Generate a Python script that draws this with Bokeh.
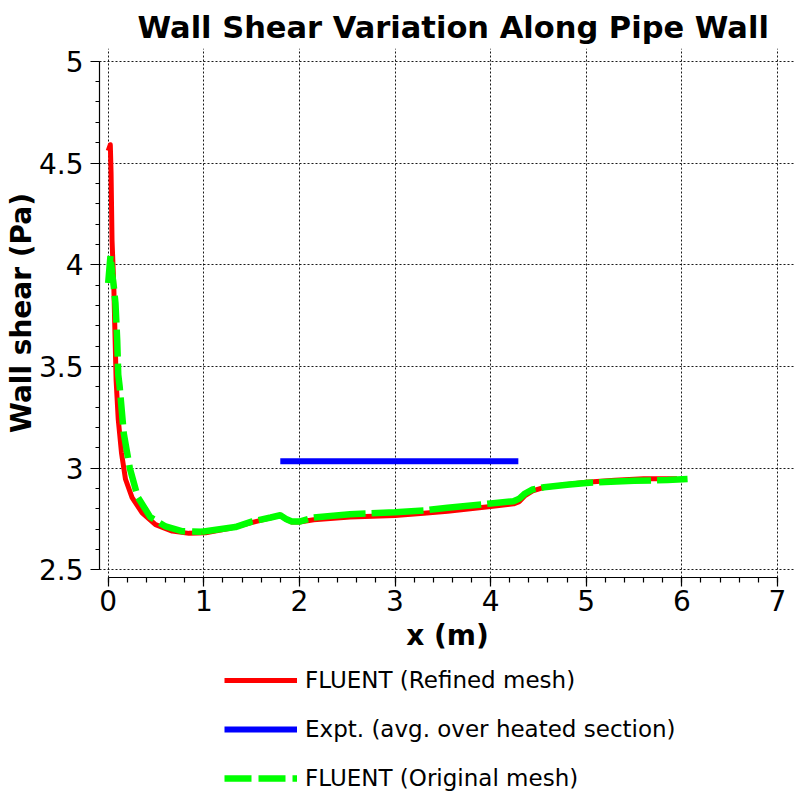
from bokeh.plotting import figure
from bokeh.models import Range1d, SingleIntervalTicker, Legend, LegendItem
from bokeh.layouts import column
from bokeh.embed import file_html
from bokeh.resources import INLINE

# ---- data ----
refined_x = [0.00, 0.022, 0.03, 0.04, 0.058, 0.083, 0.105, 0.139, 0.181, 0.25,
             0.355, 0.495, 0.67, 0.845, 1.02, 1.26, 1.51, 1.70, 1.80, 1.86,
             1.92, 2.00, 2.15, 2.53, 3.00, 3.30, 3.55, 4.00, 4.24, 4.30,
             4.36, 4.44, 4.56, 4.80, 5.00, 5.30, 5.60, 5.95]
refined_y = [4.56, 4.59, 4.45, 4.12, 3.905, 3.43, 3.24, 3.075, 2.945, 2.855,
             2.78, 2.722, 2.69, 2.679, 2.682, 2.703, 2.733, 2.755, 2.769, 2.748,
             2.735, 2.735, 2.746, 2.759, 2.767, 2.778, 2.788, 2.811, 2.824, 2.835,
             2.865, 2.888, 2.905, 2.919, 2.930, 2.940, 2.947, 2.948]

original_x = [0.00, 0.024, 0.042, 0.059, 0.076, 0.094, 0.105, 0.12, 0.163, 0.226,
              0.31, 0.44, 0.60, 0.77, 0.98, 1.33, 1.50, 1.70, 1.80, 1.86,
              1.92, 2.00, 2.15, 2.53, 3.00, 3.30, 3.55, 4.00, 4.24, 4.30,
              4.36, 4.44, 4.56, 4.80, 5.00, 5.50, 5.85, 6.06]
original_y = [3.91, 4.045, 3.955, 3.89, 3.81, 3.63, 3.46, 3.40, 3.17, 3.00,
              2.857, 2.759, 2.713, 2.69, 2.687, 2.71, 2.737, 2.757, 2.768, 2.75,
              2.737, 2.737, 2.757, 2.773, 2.783, 2.792, 2.805, 2.826, 2.837, 2.85,
              2.875, 2.895, 2.906, 2.918, 2.927, 2.938, 2.941, 2.946]

expt_x = [1.80, 4.29]
expt_y = [3.034, 3.034]

x_ticks = [0, 1, 2, 3, 4, 5, 6, 7]
x_tick_labels = ["0", "1", "2", "3", "4", "5", "6", "7"]
y_ticks = [2.5, 3.0, 3.5, 4.0, 4.5, 5.0]
y_tick_labels = ["2.5", "3", "3.5", "4", "4.5", "5"]

labels = ["FLUENT (Refined mesh)", "Expt. (avg. over heated section)", "FLUENT (Original mesh)"]

FONT = "DejaVu Sans"
RED, BLUE, GREEN = "#ff0000", "#0000ff", "#00ff00"

p = figure(width=800, height=665, output_backend="svg", toolbar_location=None,
           x_range=Range1d(-0.091, 7.189), y_range=Range1d(2.462, 5.063),
           min_border_left=99, min_border_right=5, min_border_top=48, min_border_bottom=88,
           title="Wall Shear Variation Along Pipe Wall")
p.outline_line_color = None
p.background_fill_color = "white"

p.title.text_font = FONT
p.title.text_font_size = "30.5px"
p.title.text_font_style = "bold"
p.title.text_color = "black"
p.title.align = "left"
p.title.offset = 38
p.title.standoff = 8

# axes
p.xaxis.ticker = SingleIntervalTicker(interval=1, num_minor_ticks=5)
p.yaxis.ticker = SingleIntervalTicker(interval=0.5, num_minor_ticks=5)
p.xaxis.bounds = (x_ticks[0], x_ticks[-1])
p.yaxis.bounds = (y_ticks[0], y_ticks[-1])
p.xaxis.major_label_overrides = {float(t): l for t, l in zip(x_ticks, x_tick_labels)}
p.yaxis.major_label_overrides = {float(t): l for t, l in zip(y_ticks, y_tick_labels)}

for ax in (p.xaxis, p.yaxis):
    ax.axis_line_color = "black"
    ax.axis_line_width = 1.2
    ax.major_tick_line_color = "black"
    ax.minor_tick_line_color = "black"
    ax.major_tick_line_width = 1.2
    ax.minor_tick_line_width = 1.2
    ax.major_tick_in = 0
    ax.minor_tick_in = 0
    ax.major_tick_out = 9
    ax.major_label_text_font = FONT
    ax.major_label_text_font_size = "28px"
    ax.major_label_text_color = "black"
    ax.axis_label_text_font = FONT
    ax.axis_label_text_font_size = "28px"
    ax.axis_label_text_font_style = "bold"
    ax.axis_label_text_color = "black"

p.xaxis.minor_tick_out = 5
p.yaxis.minor_tick_out = 4
p.xaxis.major_label_standoff = 3
p.yaxis.major_label_standoff = 7
p.xaxis.axis_label = "x (m)"
p.yaxis.axis_label = "Wall shear (Pa)"
p.xaxis.axis_label_standoff = 5
p.yaxis.axis_label_standoff = -2

# grid
for g in (p.xgrid, p.ygrid):
    g.grid_line_color = "black"
    g.grid_line_dash = "2 2"
    g.grid_line_width = 1
    g.grid_line_alpha = 0.9

# series
n_steep = 15
p.line(refined_x, refined_y, line_color=RED, line_width=5, line_join="round")
p.line(expt_x, expt_y, line_color=BLUE, line_width=6)
p.line(original_x[:n_steep], original_y[:n_steep], line_color=GREEN,
       line_width=6.5, line_dash="27 7")
p.line(original_x[n_steep - 1:], original_y[n_steep - 1:], line_color=GREEN,
       line_width=6.5, line_dash="52 6")

# legend strip below the chart: same series, drawn outside this strip's view,
# so only their legend keys show
pl = figure(width=800, height=135, output_backend="svg", toolbar_location=None,
            x_range=Range1d(100, 101), y_range=Range1d(100, 101),
            x_axis_location=None, y_axis_location=None, min_border=0)
pl.outline_line_color = None
pl.grid.visible = False
k_red = pl.line(refined_x, refined_y, line_color=RED, line_width=5)
k_blue = pl.line(expt_x, expt_y, line_color=BLUE, line_width=6)
k_green = pl.line(original_x, original_y, line_color=GREEN, line_width=6.5, line_dash="27 7")

legend = Legend(items=[LegendItem(label=labels[0], renderers=[k_red]),
                       LegendItem(label=labels[1], renderers=[k_blue]),
                       LegendItem(label=labels[2], renderers=[k_green])],
                location=(125, 8), orientation="vertical",
                glyph_width=73, glyph_height=28, label_standoff=8, spacing=21,
                padding=0, margin=0, border_line_alpha=0, background_fill_alpha=0,
                label_text_font=FONT, label_text_font_size="23px", label_text_color="black")
pl.add_layout(legend, "center")

layout = column(p, pl, spacing=0)
open("out.html", "w").write(file_html(layout, INLINE))
